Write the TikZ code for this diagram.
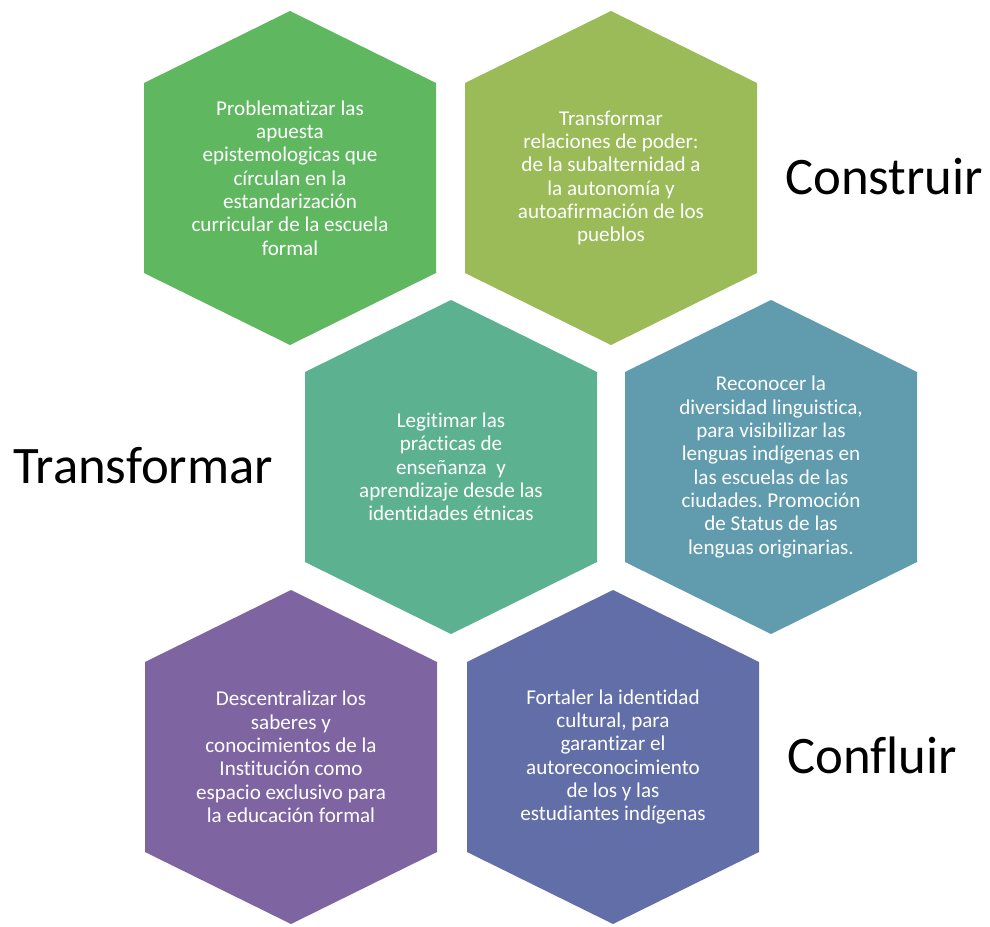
\documentclass[tikz,border=0pt]{standalone}
\usepackage{fontspec}
\setmainfont{Carlito}[Ligatures = NoCommon]
\frenchspacing
\usetikzlibrary{calc, backgrounds}
\definecolor{cellA}{HTML}{5FB760}
\definecolor{cellB}{HTML}{9BBB59}
\definecolor{cellC}{HTML}{5CB190}
\definecolor{cellD}{HTML}{609CAE}
\definecolor{cellE}{HTML}{7F64A2}
\definecolor{cellF}{HTML}{626EA8}
\tikzset{
cell/.style = {text = white, align = center, inner sep = 0pt,
   font = \fontsize{15}{16.6}\selectfont},
verb/.style = {anchor = base west, inner sep = 0pt,
   font = \fontsize{37.5}{45}\selectfont}
}

\begin{document}
\begin{tikzpicture}[x = 0.025cm, y = -0.025cm]
\useasboundingbox (0,0) rectangle (990,926);

%% Top row
\node [cell] (H1) at (290,178) {Problematizar las\\apuesta\\epistemologicas que\\círculan en la\\estandarización\\curricular de la escuela\\formal};
\node [cell] (H2) at (611,178) {Transformar\\relaciones de poder:\\de la subalternidad a\\la autonomía y\\autoafirmación de los\\pueblos};

%% Middle row
\node [cell] (H3) at (451,467) {Legitimar las\\prácticas de\\enseñanza\ \ y\\aprendizaje desde las\\identidades étnicas};
\node [cell] (H4) at (771,467) {Reconocer la\\diversidad linguistica,\\para visibilizar las\\lenguas indígenas en\\las escuelas de las\\ciudades. Promoción\\de Status de las\\lenguas originarias.};

%% Bottom row
\node [cell] (H5) at (291,757) {Descentralizar los\\saberes y\\conocimientos de la\\Institución como\\espacio exclusivo para\\la educación formal};
\node [cell] (H6) at (613,757) {Fortaler la identidad\\cultural, para\\garantizar el\\autoreconocimiento\\de los y las\\estudiantes indígenas};

%% Hexagons behind the texts
\begin{scope}[on background layer]
\foreach \cellname/\cellcol in {H1/cellA, H2/cellB, H3/cellC, H4/cellD, H5/cellE, H6/cellF}
   \fill [\cellcol] ($(\cellname)+(0,-167)$) -- ++(146,72) -- ++(0,190)
      -- ++(-146,72) -- ++(-146,-72) -- ++(0,-190) -- cycle;
\end{scope}

%% Verbs
\node [verb] (construir) at (785,194) {Construir};
\node [verb] (transformar) at (13,483) {Transformar};
\node [verb] (confluir) at (787,773) {Confluir};

\end{tikzpicture}
\end{document}
